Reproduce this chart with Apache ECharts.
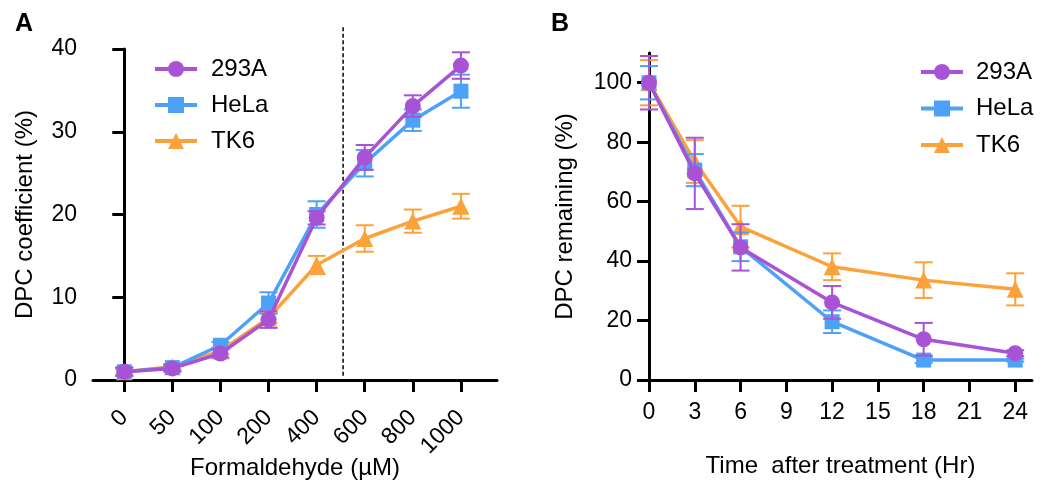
<!DOCTYPE html>
<html><head><meta charset="utf-8">
<script src="https://cdn.jsdelivr.net/npm/echarts@6/dist/echarts.min.js"></script>
<style>html,body{margin:0;padding:0;background:#fff}#c{width:1050px;height:489px}</style>
</head><body><div id="c"></div>
<script>
// Panel A data
const doseLabels = ['0','50','100','200','400','600','800','1000'];
const doseIndex = [0,1,2,3,4,5,6,7];
const a293A    = [1.0,1.4,3.2,7.3,19.6,26.9,33.1,38.0];
const a293AErr = [0.5,0.4,0.5,1.0,0.8,1.5,1.3,1.6];
const aHeLa    = [1.0,1.5,4.2,9.3,20.0,26.2,31.4,34.9];
const aHeLaErr = [0.5,0.4,0.4,1.3,1.6,1.6,1.3,2.0];
const aTK6     = [1.0,1.6,3.5,7.5,13.9,17.1,19.2,21.0];
const aTK6Err  = [0.3,0.3,0.4,0.6,1.1,1.6,1.4,1.5];
const dividerX = 4.55;
const dividerSpan = [0.5, 42.9];
// Panel B data
const hours    = [0,3,6,12,18,24];
const hourTicks = [0,3,6,9,12,15,18,21,24];
const b293A    = [100,69.5,44.6,26.1,13.7,9.0];
const b293AErr = [9,12,7.8,5.5,5.5,1];
const bHeLa    = [100,70.6,44.8,19.6,6.7,6.7];
const bHeLaErr = [5.6,5.4,4.8,3.8,1,0.5];
const bTK6     = [100,73.5,51.6,38.1,33.6,30.5];
const bTK6Err  = [7.6,7.2,7,4.5,6,5.4];
const yTicksB  = [0,20,40,60,80,100];

const names = ['293A','HeLa','TK6'];
const colors = {'293A':'#a853d6','HeLa':'#4da2f7','TK6':'#fda23a'};
const symbols = {'293A':'circle','HeLa':'rect','TK6':'triangle'};
const symSizes = {'293A':16,'HeLa':15,'TK6':17};
const FONT = 'Liberation Sans';

function pairs(xs, ys){ return xs.map((x,i)=>[x, ys[i]]); }
function triples(xs, ys, es){ return xs.map((x,i)=>[x, ys[i], es[i]]); }

function lineSeries(name, xs, ys, gi, z){
  return {type:'line', name, xAxisIndex:gi, yAxisIndex:gi, data:pairs(xs,ys),
    symbol:symbols[name], symbolSize:symSizes[name], z,
    lineStyle:{color:colors[name], width:3.5}, itemStyle:{color:colors[name]},
    emphasis:{disabled:true}, animation:false};
}
function errSeries(name, xs, ys, es, gi, z){
  const c = colors[name];
  return {type:'custom', name:name+'-err', xAxisIndex:gi, yAxisIndex:gi, z,
    data:triples(xs,ys,es), encode:{x:0,y:1}, animation:false, clip:false,
    renderItem:function(params, api){
      const x = api.value(0), y = api.value(1), e = api.value(2);
      const t = api.coord([x, y+e]), b = api.coord([x, y-e]);
      const hw = 9;
      const st = {stroke:c, lineWidth:2};
      return {type:'group', children:[
        {type:'line', shape:{x1:t[0],y1:t[1],x2:b[0],y2:b[1]}, style:st},
        {type:'line', shape:{x1:t[0]-hw,y1:t[1],x2:t[0]+hw,y2:t[1]}, style:st},
        {type:'line', shape:{x1:b[0]-hw,y1:b[1],x2:b[0]+hw,y2:b[1]}, style:st}
      ]};
    }};
}

const axisLineStyle = {show:true, lineStyle:{color:'#000', width:3}};
const tickStyle = {show:true, length:12, lineStyle:{color:'#000', width:3}};
const labelStyle = {color:'#000', fontSize:23, fontFamily:FONT};
const nameStyle = {color:'#000', fontSize:24, fontFamily:FONT};

const option = {
  backgroundColor:'#fff',
  animation:false,
  textStyle:{fontFamily:FONT},
  title:[
    {text:'A', left:10, top:7, textStyle:{fontSize:25, fontWeight:'bold', color:'#000', fontFamily:FONT}},
    {text:'B', left:546, top:7, textStyle:{fontSize:25, fontWeight:'bold', color:'#000', fontFamily:FONT}}
  ],
  legend:[
    {data:names, orient:'vertical', left:148, top:52, itemWidth:42, itemHeight:20, itemGap:12,
     lineStyle:{width:4},
     textStyle:{fontSize:24, color:'#000', fontFamily:FONT, padding:[0,0,0,9]}, selectedMode:false},
    {data:names, orient:'vertical', left:914, top:55, itemWidth:42, itemHeight:20, itemGap:12.5,
     lineStyle:{width:4},
     textStyle:{fontSize:24, color:'#000', fontFamily:FONT, padding:[0,0,0,8]}, selectedMode:false}
  ],
  grid:[
    {left:93, top:49, width:404, height:331, containLabel:false, outerBoundsMode:'none'},
    {left:649, top:53, width:383, height:327, containLabel:false, outerBoundsMode:'none'}
  ],
  xAxis:[
    {type:'value', gridIndex:0, min:-0.65, max:7.75,
     axisLine:axisLineStyle, axisTick:Object.assign({customValues:doseIndex}, tickStyle), splitLine:{show:false},
     axisLabel:Object.assign({customValues:doseIndex, rotate:45, margin:34, formatter:v=>doseLabels[Math.round(v)]}, labelStyle),
     name:'Formaldehyde (µM)', nameLocation:'middle', nameGap:76, nameMoveOverlap:false, nameTextStyle:nameStyle},
    {type:'value', gridIndex:1, min:0, max:25.1,
     axisLine:axisLineStyle, axisTick:Object.assign({customValues:hourTicks}, tickStyle), splitLine:{show:false},
     axisLabel:Object.assign({customValues:hourTicks, margin:21}, labelStyle),
     name:'Time  after treatment (Hr)', nameLocation:'middle', nameGap:74, nameMoveOverlap:false, nameTextStyle:nameStyle}
  ],
  yAxis:[
    {type:'value', gridIndex:0, min:0, max:40, interval:10,
     axisLine:axisLineStyle, axisTick:tickStyle, splitLine:{show:false},
     axisLabel:Object.assign({margin:16}, labelStyle),
     name:'DPC coefficient (%)', nameLocation:'middle', nameGap:56, nameMoveOverlap:false, nameTextStyle:nameStyle},
    {type:'value', gridIndex:1, min:0, max:110,
     axisLine:axisLineStyle, axisTick:Object.assign({customValues:yTicksB}, tickStyle), splitLine:{show:false},
     axisLabel:Object.assign({customValues:yTicksB, margin:17}, labelStyle),
     name:'DPC remaining (%)', nameLocation:'middle', nameGap:72, nameMoveOverlap:false, nameTextStyle:nameStyle}
  ],
  series:[
    {type:'line', name:'divider', xAxisIndex:0, yAxisIndex:0, data:[[dividerX,dividerSpan[0]],[dividerX,dividerSpan[1]]],
     symbol:'none', clip:false, lineStyle:{color:'#000', width:1.5, type:[4,2.5]}, z:1, silent:true},
    errSeries('TK6', doseIndex, aTK6, aTK6Err, 0, 2),
    lineSeries('TK6', doseIndex, aTK6, 0, 3),
    errSeries('HeLa', doseIndex, aHeLa, aHeLaErr, 0, 4),
    lineSeries('HeLa', doseIndex, aHeLa, 0, 5),
    errSeries('293A', doseIndex, a293A, a293AErr, 0, 6),
    lineSeries('293A', doseIndex, a293A, 0, 7),
    errSeries('TK6', hours, bTK6, bTK6Err, 1, 2),
    lineSeries('TK6', hours, bTK6, 1, 3),
    errSeries('HeLa', hours, bHeLa, bHeLaErr, 1, 4),
    lineSeries('HeLa', hours, bHeLa, 1, 5),
    errSeries('293A', hours, b293A, b293AErr, 1, 6),
    lineSeries('293A', hours, b293A, 1, 7)
  ]
};
const chart = echarts.init(document.getElementById('c'), null, {renderer:'canvas'});
chart.setOption(option);
</script></body></html>
